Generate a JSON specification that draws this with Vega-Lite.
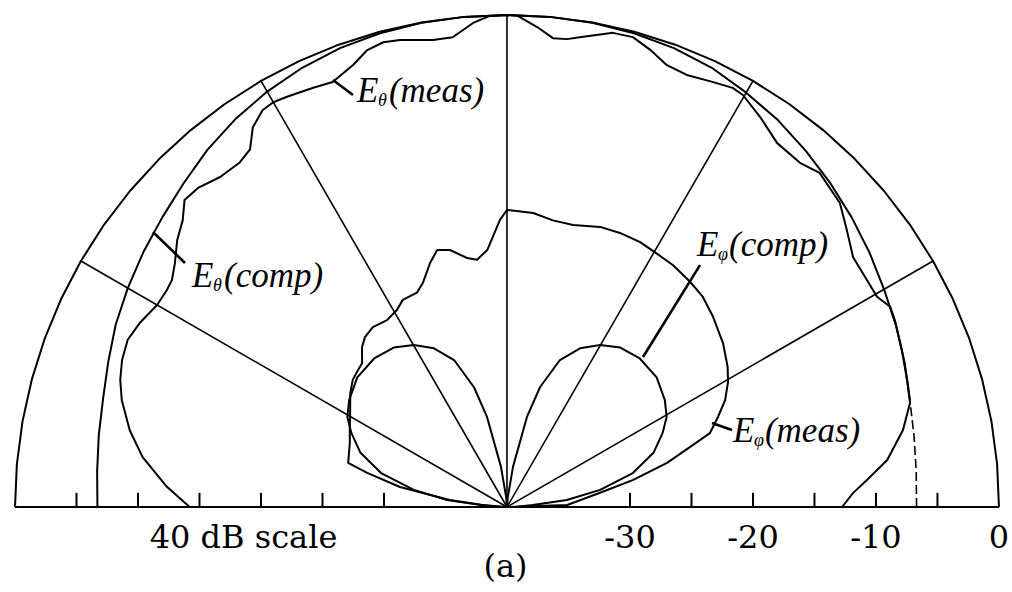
{
  "$schema": "https://vega.github.io/schema/vega-lite/v6.json",
  "width": 1012,
  "height": 592,
  "padding": 0,
  "autosize": {"type": "none"},
  "background": "white",
  "config": {"view": {"stroke": null}, "axis": {"disable": true}, "legend": {"disable": true}},
  "datasets": {
    "pattern": [
      {"s": "outer", "a": 0, "v": 0}, {"s": "outer", "a": 5, "v": 0}, {"s": "outer", "a": 10, "v": 0}, {"s": "outer", "a": 15, "v": 0},
      {"s": "outer", "a": 20, "v": 0}, {"s": "outer", "a": 25, "v": 0}, {"s": "outer", "a": 30, "v": 0}, {"s": "outer", "a": 35, "v": 0},
      {"s": "outer", "a": 40, "v": 0}, {"s": "outer", "a": 45, "v": 0}, {"s": "outer", "a": 50, "v": 0}, {"s": "outer", "a": 55, "v": 0},
      {"s": "outer", "a": 60, "v": 0}, {"s": "outer", "a": 65, "v": 0}, {"s": "outer", "a": 70, "v": 0}, {"s": "outer", "a": 75, "v": 0},
      {"s": "outer", "a": 80, "v": 0}, {"s": "outer", "a": 85, "v": 0}, {"s": "outer", "a": 90, "v": 0}, {"s": "outer", "a": 95, "v": 0},
      {"s": "outer", "a": 100, "v": 0}, {"s": "outer", "a": 105, "v": 0}, {"s": "outer", "a": 110, "v": 0}, {"s": "outer", "a": 115, "v": 0},
      {"s": "outer", "a": 120, "v": 0}, {"s": "outer", "a": 125, "v": 0}, {"s": "outer", "a": 130, "v": 0}, {"s": "outer", "a": 135, "v": 0},
      {"s": "outer", "a": 140, "v": 0}, {"s": "outer", "a": 145, "v": 0}, {"s": "outer", "a": 150, "v": 0}, {"s": "outer", "a": 155, "v": 0},
      {"s": "outer", "a": 160, "v": 0}, {"s": "outer", "a": 165, "v": 0}, {"s": "outer", "a": 170, "v": 0}, {"s": "outer", "a": 175, "v": 0},
      {"s": "outer", "a": 180, "v": 0},

      {"s": "Etheta_comp", "a": 0, "v": -6.7}, {"s": "Etheta_comp", "a": 5, "v": -6.6}, {"s": "Etheta_comp", "a": 10, "v": -6.4},
      {"s": "Etheta_comp", "a": 15, "v": -6.1}, {"s": "Etheta_comp", "a": 20, "v": -5.6}, {"s": "Etheta_comp", "a": 25, "v": -5.1},
      {"s": "Etheta_comp", "a": 30, "v": -4.6}, {"s": "Etheta_comp", "a": 35, "v": -4.0}, {"s": "Etheta_comp", "a": 40, "v": -3.4},
      {"s": "Etheta_comp", "a": 45, "v": -2.8}, {"s": "Etheta_comp", "a": 50, "v": -2.2}, {"s": "Etheta_comp", "a": 55, "v": -1.6},
      {"s": "Etheta_comp", "a": 60, "v": -1.1}, {"s": "Etheta_comp", "a": 65, "v": -0.6}, {"s": "Etheta_comp", "a": 70, "v": -0.3},
      {"s": "Etheta_comp", "a": 75, "v": -0.12}, {"s": "Etheta_comp", "a": 80, "v": -0.03}, {"s": "Etheta_comp", "a": 85, "v": 0},
      {"s": "Etheta_comp", "a": 90, "v": 0}, {"s": "Etheta_comp", "a": 95, "v": 0}, {"s": "Etheta_comp", "a": 100, "v": -0.03},
      {"s": "Etheta_comp", "a": 105, "v": -0.12}, {"s": "Etheta_comp", "a": 110, "v": -0.3}, {"s": "Etheta_comp", "a": 115, "v": -0.6},
      {"s": "Etheta_comp", "a": 120, "v": -1.0}, {"s": "Etheta_comp", "a": 125, "v": -1.5}, {"s": "Etheta_comp", "a": 130, "v": -2.1},
      {"s": "Etheta_comp", "a": 135, "v": -2.8}, {"s": "Etheta_comp", "a": 140, "v": -3.4}, {"s": "Etheta_comp", "a": 145, "v": -3.9},
      {"s": "Etheta_comp", "a": 150, "v": -4.4}, {"s": "Etheta_comp", "a": 155, "v": -4.9}, {"s": "Etheta_comp", "a": 160, "v": -5.5},
      {"s": "Etheta_comp", "a": 165, "v": -6.0}, {"s": "Etheta_comp", "a": 170, "v": -6.3}, {"s": "Etheta_comp", "a": 175, "v": -6.55},
      {"s": "Etheta_comp", "a": 180, "v": -6.7},

      {"s": "Etheta_meas", "a": 0, "v": -12.75}, {"s": "Etheta_meas", "a": 2.3, "v": -11.85}, {"s": "Etheta_meas", "a": 4.3, "v": -10.65},
      {"s": "Etheta_meas", "a": 7.05, "v": -8.85}, {"s": "Etheta_meas", "a": 11, "v": -7.2}, {"s": "Etheta_meas", "a": 14.5, "v": -6.15},
      {"s": "Etheta_meas", "a": 17.2, "v": -5.9}, {"s": "Etheta_meas", "a": 21.7, "v": -5.45}, {"s": "Etheta_meas", "a": 25.7, "v": -5.0},
      {"s": "Etheta_meas", "a": 27.6, "v": -4.85}, {"s": "Etheta_meas", "a": 29.6, "v": -5.4}, {"s": "Etheta_meas", "a": 32.2, "v": -5.4},
      {"s": "Etheta_meas", "a": 35.8, "v": -5.3}, {"s": "Etheta_meas", "a": 39.2, "v": -4.35}, {"s": "Etheta_meas", "a": 42.4, "v": -3.35},
      {"s": "Etheta_meas", "a": 46.9, "v": -2.8}, {"s": "Etheta_meas", "a": 49.6, "v": -3.25}, {"s": "Etheta_meas", "a": 53.4, "v": -3.15},
      {"s": "Etheta_meas", "a": 57, "v": -2.2}, {"s": "Etheta_meas", "a": 60.2, "v": -1.4}, {"s": "Etheta_meas", "a": 61.7, "v": -1.3},
      {"s": "Etheta_meas", "a": 64.1, "v": -1.6}, {"s": "Etheta_meas", "a": 67.4, "v": -1.95}, {"s": "Etheta_meas", "a": 70.1, "v": -1.8},
      {"s": "Etheta_meas", "a": 72.6, "v": -1.05}, {"s": "Etheta_meas", "a": 75, "v": -0.45}, {"s": "Etheta_meas", "a": 77.4, "v": -0.5},
      {"s": "Etheta_meas", "a": 81.2, "v": -1.35}, {"s": "Etheta_meas", "a": 82.7, "v": -1.65}, {"s": "Etheta_meas", "a": 84.4, "v": -1.7},
      {"s": "Etheta_meas", "a": 86.4, "v": -0.9}, {"s": "Etheta_meas", "a": 88.8, "v": -0.05}, {"s": "Etheta_meas", "a": 90, "v": 0},
      {"s": "Etheta_meas", "a": 92, "v": -0.05}, {"s": "Etheta_meas", "a": 94, "v": -0.55}, {"s": "Etheta_meas", "a": 96.6, "v": -1.55},
      {"s": "Etheta_meas", "a": 99, "v": -1.55}, {"s": "Etheta_meas", "a": 102.9, "v": -1.05}, {"s": "Etheta_meas", "a": 104.9, "v": -0.9},
      {"s": "Etheta_meas", "a": 107, "v": -1.15}, {"s": "Etheta_meas", "a": 109.2, "v": -1.95}, {"s": "Etheta_meas", "a": 112.3, "v": -2.65},
      {"s": "Etheta_meas", "a": 114.8, "v": -2.45}, {"s": "Etheta_meas", "a": 118.2, "v": -2.15}, {"s": "Etheta_meas", "a": 120, "v": -2.0},
      {"s": "Etheta_meas", "a": 121.6, "v": -2.1}, {"s": "Etheta_meas", "a": 123.8, "v": -2.85}, {"s": "Etheta_meas", "a": 125.7, "v": -4.2},
      {"s": "Etheta_meas", "a": 127.8, "v": -4.55}, {"s": "Etheta_meas", "a": 131, "v": -4.45}, {"s": "Etheta_meas", "a": 134, "v": -3.9},
      {"s": "Etheta_meas", "a": 136.4, "v": -3.8}, {"s": "Etheta_meas", "a": 138.5, "v": -4.8}, {"s": "Etheta_meas", "a": 141, "v": -5.5},
      {"s": "Etheta_meas", "a": 143.7, "v": -6.5}, {"s": "Etheta_meas", "a": 145.9, "v": -7.1}, {"s": "Etheta_meas", "a": 147.5, "v": -7.2},
      {"s": "Etheta_meas", "a": 150, "v": -7.15}, {"s": "Etheta_meas", "a": 153.4, "v": -6.6}, {"s": "Etheta_meas", "a": 156.2, "v": -6.3},
      {"s": "Etheta_meas", "a": 159.1, "v": -6.5}, {"s": "Etheta_meas", "a": 161.8, "v": -6.9}, {"s": "Etheta_meas", "a": 164.5, "v": -7.5},
      {"s": "Etheta_meas", "a": 168.5, "v": -8.7}, {"s": "Etheta_meas", "a": 172.2, "v": -10.1}, {"s": "Etheta_meas", "a": 176.6, "v": -12.3},
      {"s": "Etheta_meas", "a": 180, "v": -14.2},

      {"s": "Ephi_comp", "a": 0, "v": -40}, {"s": "Ephi_comp", "a": 2, "v": -39.2}, {"s": "Ephi_comp", "a": 4.4, "v": -37.9},
      {"s": "Ephi_comp", "a": 6.7, "v": -35.1}, {"s": "Ephi_comp", "a": 10.4, "v": -32.3}, {"s": "Ephi_comp", "a": 15.1, "v": -29.4},
      {"s": "Ephi_comp", "a": 20.3, "v": -27.3}, {"s": "Ephi_comp", "a": 25.4, "v": -26.0}, {"s": "Ephi_comp", "a": 29.4, "v": -25.1},
      {"s": "Ephi_comp", "a": 34.1, "v": -24.5}, {"s": "Ephi_comp", "a": 40.9, "v": -23.9}, {"s": "Ephi_comp", "a": 48.2, "v": -23.8},
      {"s": "Ephi_comp", "a": 54.6, "v": -24.1}, {"s": "Ephi_comp", "a": 60.1, "v": -24.8}, {"s": "Ephi_comp", "a": 65.3, "v": -25.8},
      {"s": "Ephi_comp", "a": 70.2, "v": -27.3}, {"s": "Ephi_comp", "a": 74.6, "v": -29.9}, {"s": "Ephi_comp", "a": 77.5, "v": -32.5},
      {"s": "Ephi_comp", "a": 81.5, "v": -36.7}, {"s": "Ephi_comp", "a": 85, "v": -39.2}, {"s": "Ephi_comp", "a": 90, "v": -40},
      {"s": "Ephi_comp", "a": 95, "v": -39.2}, {"s": "Ephi_comp", "a": 98.5, "v": -36.7}, {"s": "Ephi_comp", "a": 102.5, "v": -32.5},
      {"s": "Ephi_comp", "a": 105.4, "v": -29.9}, {"s": "Ephi_comp", "a": 109.8, "v": -27.3}, {"s": "Ephi_comp", "a": 114.7, "v": -25.8},
      {"s": "Ephi_comp", "a": 119.9, "v": -24.8}, {"s": "Ephi_comp", "a": 125.4, "v": -24.1}, {"s": "Ephi_comp", "a": 131.8, "v": -23.8},
      {"s": "Ephi_comp", "a": 139.1, "v": -23.9}, {"s": "Ephi_comp", "a": 145.9, "v": -24.5}, {"s": "Ephi_comp", "a": 150.6, "v": -25.1},
      {"s": "Ephi_comp", "a": 154.6, "v": -26.0}, {"s": "Ephi_comp", "a": 159.7, "v": -27.3}, {"s": "Ephi_comp", "a": 164.9, "v": -29.4},
      {"s": "Ephi_comp", "a": 169.6, "v": -32.3}, {"s": "Ephi_comp", "a": 173.3, "v": -35.1}, {"s": "Ephi_comp", "a": 175.6, "v": -37.9},
      {"s": "Ephi_comp", "a": 178, "v": -39.2}, {"s": "Ephi_comp", "a": 180, "v": -40},

      {"s": "Ephi_meas", "a": 0, "v": -40}, {"s": "Ephi_meas", "a": 1.9, "v": -35.1}, {"s": "Ephi_meas", "a": 8.6, "v": -32.4},
      {"s": "Ephi_meas", "a": 12.1, "v": -29.5}, {"s": "Ephi_meas", "a": 15.4, "v": -26.5}, {"s": "Ephi_meas", "a": 19.1, "v": -23.4},
      {"s": "Ephi_meas", "a": 20, "v": -22.45}, {"s": "Ephi_meas", "a": 23.1, "v": -21.35}, {"s": "Ephi_meas", "a": 26.1, "v": -20.25},
      {"s": "Ephi_meas", "a": 29.5, "v": -19.35}, {"s": "Ephi_meas", "a": 32.4, "v": -18.75}, {"s": "Ephi_meas", "a": 37.2, "v": -17.95},
      {"s": "Ephi_meas", "a": 42.7, "v": -17.2}, {"s": "Ephi_meas", "a": 47, "v": -16.65}, {"s": "Ephi_meas", "a": 50.9, "v": -16.4},
      {"s": "Ephi_meas", "a": 55.5, "v": -16.15}, {"s": "Ephi_meas", "a": 59.9, "v": -16.05}, {"s": "Ephi_meas", "a": 63.3, "v": -15.9},
      {"s": "Ephi_meas", "a": 67.6, "v": -15.9}, {"s": "Ephi_meas", "a": 71.6, "v": -16.0}, {"s": "Ephi_meas", "a": 76.8, "v": -16.45},
      {"s": "Ephi_meas", "a": 80.9, "v": -16.4}, {"s": "Ephi_meas", "a": 84.9, "v": -16.0}, {"s": "Ephi_meas", "a": 90, "v": -15.85},
      {"s": "Ephi_meas", "a": 91.4, "v": -16.65}, {"s": "Ephi_meas", "a": 93, "v": -18.0}, {"s": "Ephi_meas", "a": 94.4, "v": -19.05},
      {"s": "Ephi_meas", "a": 96.9, "v": -19.75}, {"s": "Ephi_meas", "a": 99.1, "v": -19.5}, {"s": "Ephi_meas", "a": 102.5, "v": -18.6},
      {"s": "Ephi_meas", "a": 105.2, "v": -18.35}, {"s": "Ephi_meas", "a": 107.5, "v": -19.2}, {"s": "Ephi_meas", "a": 110.6, "v": -20.55},
      {"s": "Ephi_meas", "a": 112.8, "v": -21.1}, {"s": "Ephi_meas", "a": 116.7, "v": -21.15}, {"s": "Ephi_meas", "a": 119.2, "v": -21.65},
      {"s": "Ephi_meas", "a": 122.7, "v": -21.95}, {"s": "Ephi_meas", "a": 126.7, "v": -21.75}, {"s": "Ephi_meas", "a": 129.9, "v": -22.0},
      {"s": "Ephi_meas", "a": 132.2, "v": -22.45}, {"s": "Ephi_meas", "a": 135.2, "v": -23.4}, {"s": "Ephi_meas", "a": 137.4, "v": -23.55},
      {"s": "Ephi_meas", "a": 140.5, "v": -23.75}, {"s": "Ephi_meas", "a": 144, "v": -24.25}, {"s": "Ephi_meas", "a": 150.2, "v": -25.3},
      {"s": "Ephi_meas", "a": 153, "v": -25.65}, {"s": "Ephi_meas", "a": 157.8, "v": -26.2}, {"s": "Ephi_meas", "a": 164.5, "v": -26.6},
      {"s": "Ephi_meas", "a": 166.3, "v": -28.3}, {"s": "Ephi_meas", "a": 169.4, "v": -31.15}, {"s": "Ephi_meas", "a": 173, "v": -35.3},
      {"s": "Ephi_meas", "a": 175.5, "v": -38.0}, {"s": "Ephi_meas", "a": 180, "v": -40}
    ],
    "spokes": [{"a": 30}, {"a": 60}, {"a": 90}, {"a": 120}, {"a": 150}],
    "ticks": [
      {"side": -1, "db": -5}, {"side": -1, "db": -10}, {"side": -1, "db": -15}, {"side": -1, "db": -20}, {"side": -1, "db": -25}, {"side": -1, "db": -30},
      {"side": 1, "db": -5}, {"side": 1, "db": -10}, {"side": 1, "db": -15}, {"side": 1, "db": -20}, {"side": 1, "db": -25}, {"side": 1, "db": -30}
    ],
    "scaleLabels": [{"db": -30, "label": "-30"}, {"db": -20, "label": "-20"}, {"db": -10, "label": "-10"}, {"db": 0, "label": "0"}]
  },
  "layer": [
    {
      "data": {"name": "spokes"},
      "transform": [
        {"calculate": "0", "as": "x1"},
        {"calculate": "0", "as": "y1"},
        {"calculate": "40 * cos(datum.a * PI / 180)", "as": "x2"},
        {"calculate": "40 * sin(datum.a * PI / 180)", "as": "y2"}
      ],
      "mark": {"type": "rule", "color": "black", "strokeWidth": 1.6},
      "encoding": {
        "x": {"field": "x1", "type": "quantitative", "scale": {"domain": [-41.22, 41.06], "nice": false, "zero": false}},
        "y": {"field": "y1", "type": "quantitative", "scale": {"domain": [-6.91, 41.22], "nice": false, "zero": false}},
        "x2": {"field": "x2"},
        "y2": {"field": "y2"}
      }
    },
    {
      "data": {"values": [{"from": -40, "to": 40, "level": 0}]},
      "mark": {"type": "rule", "color": "black", "strokeWidth": 2},
      "encoding": {
        "x": {"field": "from", "type": "quantitative"},
        "x2": {"field": "to"},
        "y": {"field": "level", "type": "quantitative"}
      }
    },
    {
      "data": {"name": "ticks"},
      "transform": [
        {"calculate": "datum.side * (40 + datum.db)", "as": "x"},
        {"calculate": "0", "as": "y1"},
        {"calculate": "1.15", "as": "y2"}
      ],
      "mark": {"type": "rule", "color": "black", "strokeWidth": 2},
      "encoding": {
        "x": {"field": "x", "type": "quantitative"},
        "y": {"field": "y1", "type": "quantitative"},
        "y2": {"field": "y2"}
      }
    },
    {
      "data": {"name": "pattern"},
      "transform": [
        {"filter": "datum.s != 'Etheta_comp' || datum.a >= 15"},
        {"calculate": "(40 + datum.v) * cos(datum.a * PI / 180)", "as": "x"},
        {"calculate": "(40 + datum.v) * sin(datum.a * PI / 180)", "as": "y"}
      ],
      "mark": {"type": "line", "color": "black", "strokeWidth": 2, "strokeJoin": "round"},
      "encoding": {
        "x": {"field": "x", "type": "quantitative"},
        "y": {"field": "y", "type": "quantitative"},
        "detail": {"field": "s", "type": "nominal"},
        "order": {"field": "a", "type": "quantitative"}
      }
    },
    {
      "data": {"name": "pattern"},
      "transform": [
        {"filter": "datum.s == 'Etheta_comp' && datum.a <= 15"},
        {"calculate": "(40 + datum.v) * cos(datum.a * PI / 180)", "as": "x"},
        {"calculate": "(40 + datum.v) * sin(datum.a * PI / 180)", "as": "y"}
      ],
      "mark": {"type": "line", "color": "black", "strokeWidth": 1.6, "strokeDash": [9, 4]},
      "encoding": {
        "x": {"field": "x", "type": "quantitative"},
        "y": {"field": "y", "type": "quantitative"},
        "order": {"field": "a", "type": "quantitative"}
      }
    },
    {
      "data": {"values": [
        {"x1": -14.15, "y1": 34.72, "x2": -12.52, "y2": 33.5},
        {"x1": -28.78, "y1": 22.36, "x2": -26.18, "y2": 19.84},
        {"x1": 15.69, "y1": 19.67, "x2": 11.06, "y2": 12.2},
        {"x1": 16.67, "y1": 6.83, "x2": 18.29, "y2": 6.26}
      ]},
      "mark": {"type": "rule", "color": "black", "strokeWidth": 2.6},
      "encoding": {
        "x": {"field": "x1", "type": "quantitative"},
        "y": {"field": "y1", "type": "quantitative"},
        "x2": {"field": "x2"},
        "y2": {"field": "y2"}
      }
    },
    {
      "data": {"values": [
        {"part": "E", "x": -12.2, "y": 32.9},
        {"part": "E", "x": -25.6, "y": 17.9},
        {"part": "E", "x": 15.45, "y": 20.4},
        {"part": "E", "x": 18.37, "y": 5.3}
      ]},
      "mark": {"type": "text", "font": "Liberation Serif", "fontStyle": "italic", "fontSize": 35, "align": "left", "baseline": "alphabetic", "color": "black"},
      "encoding": {
        "x": {"field": "x", "type": "quantitative"},
        "y": {"field": "y", "type": "quantitative"},
        "text": {"field": "part"}
      }
    },
    {
      "data": {"values": [
        {"part": "θ", "x": -12.2, "y": 32.9},
        {"part": "θ", "x": -25.6, "y": 17.9},
        {"part": "φ", "x": 15.45, "y": 20.4},
        {"part": "φ", "x": 18.37, "y": 5.3}
      ]},
      "mark": {"type": "text", "font": "Liberation Serif", "fontStyle": "italic", "fontSize": 18, "align": "left", "baseline": "alphabetic", "dx": 21, "dy": 4, "color": "black"},
      "encoding": {
        "x": {"field": "x", "type": "quantitative"},
        "y": {"field": "y", "type": "quantitative"},
        "text": {"field": "part"}
      }
    },
    {
      "data": {"values": [
        {"part": "(meas)", "x": -12.2, "y": 32.9},
        {"part": "(comp)", "x": -25.6, "y": 17.9},
        {"part": "(comp)", "x": 15.45, "y": 20.4},
        {"part": "(meas)", "x": 18.37, "y": 5.3}
      ]},
      "mark": {"type": "text", "font": "Liberation Serif", "fontStyle": "italic", "fontSize": 35, "align": "left", "baseline": "alphabetic", "dx": 32, "color": "black"},
      "encoding": {
        "x": {"field": "x", "type": "quantitative"},
        "y": {"field": "y", "type": "quantitative"},
        "text": {"field": "part"}
      }
    },
    {
      "data": {"name": "scaleLabels"},
      "transform": [
        {"calculate": "40 + datum.db", "as": "x"},
        {"calculate": "-3.33", "as": "y"}
      ],
      "mark": {"type": "text", "font": "DejaVu Serif", "fontSize": 32, "align": "center", "baseline": "alphabetic", "color": "black"},
      "encoding": {
        "x": {"field": "x", "type": "quantitative"},
        "y": {"field": "y", "type": "quantitative"},
        "text": {"field": "label"}
      }
    },
    {
      "data": {"values": [
        {"caption": "40 dB scale", "x": -21.42, "y": -3.33, "size": "big"},
        {"caption": "(a)", "x": -0.12, "y": -5.69, "size": "big"}
      ]},
      "mark": {"type": "text", "font": "DejaVu Serif", "fontSize": 32, "align": "center", "baseline": "alphabetic", "color": "black"},
      "encoding": {
        "x": {"field": "x", "type": "quantitative"},
        "y": {"field": "y", "type": "quantitative"},
        "text": {"field": "caption"}
      }
    }
  ]
}
